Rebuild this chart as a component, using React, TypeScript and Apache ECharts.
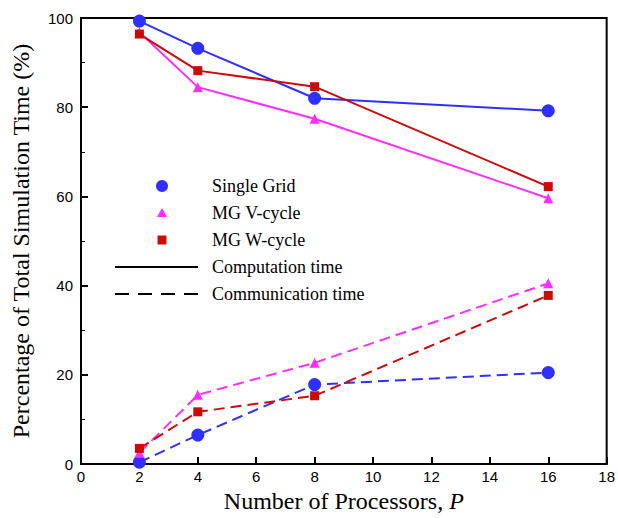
import React, { useEffect, useRef } from "react";
import * as echarts from "echarts";

const processors = [2, 4, 8, 16];
const sgComp = [99.3, 93.2, 82.0, 79.2];
const mgvComp = [96.8, 84.5, 77.4, 59.6];
const mgwComp = [96.4, 88.2, 84.6, 62.2];
const sgComm = [0.4, 6.5, 17.8, 20.5];
const mgvComm = [2.5, 15.5, 22.7, 40.5];
const mgwComm = [3.5, 11.7, 15.3, 37.8];

const xTicks = [0, 18, 2];
const yTicks = [0, 100, 20];

const BLUE = "#2f2fff";
const MAGENTA = "#ff2cff";
const RED = "#cc0a0a";

const pts = (ys: number[]) => processors.map((x, i) => [x, ys[i]]);

export default function App() {
  const ref = useRef<HTMLDivElement>(null);
  useEffect(() => {
    if (!ref.current) return;
    const chart = echarts.init(ref.current, null, { renderer: "svg" });
    const mk = (
      name: string,
      data: number[],
      color: string,
      symbol: string,
      size: number,
      dashed: boolean
    ) => ({
      name,
      type: "line",
      data: pts(data),
      symbol,
      symbolSize: size,
      showSymbol: true,
      itemStyle: { color },
      lineStyle: {
        color,
        width: 2,
        type: dashed ? [11, 6] : "solid",
      },
      z: 3,
    });
    const serif = "'Liberation Serif', 'DejaVu Serif', serif";
    const sans = "'Liberation Sans', Arial, sans-serif";
    const legendX = 162;
    const textX = 212;
    const rows = [186, 213, 240, 267, 294];
    chart.setOption({
      animation: false,
      backgroundColor: "#fff",
      grid: {
        left: 81,
        top: 18,
        right: 8,
        bottom: 51,
        show: true,
        borderColor: "#000",
        borderWidth: 2,
      },
      xAxis: {
        type: "value",
        min: xTicks[0],
        max: xTicks[1],
        interval: xTicks[2],
        name: "Number of Processors, {i|P}",
        nameLocation: "middle",
        nameGap: 25,
        nameTextStyle: {
          fontFamily: serif,
          fontSize: 24,
          color: "#000",
          verticalAlign: "top",
          rich: {
            i: { fontFamily: serif, fontSize: 24, fontStyle: "italic", color: "#000" },
          },
        },
        axisLine: { lineStyle: { color: "#000", width: 2 } },
        axisTick: { inside: true, length: 7, lineStyle: { color: "#000", width: 2 } },
        axisLabel: { fontFamily: sans, fontSize: 15, color: "#000", margin: 5 },
        splitLine: { show: false },
      },
      yAxis: {
        type: "value",
        min: yTicks[0],
        max: yTicks[1],
        interval: yTicks[2],
        name: "Percentage of Total Simulation Time (%)",
        nameLocation: "middle",
        nameGap: 48,
        nameTextStyle: { fontFamily: serif, fontSize: 24, color: "#000" },
        axisLine: { lineStyle: { color: "#000", width: 2 } },
        axisTick: { inside: true, length: 7, lineStyle: { color: "#000", width: 2 } },
        minorTick: { show: true, splitNumber: 2, length: 4, lineStyle: { color: "#000", width: 1 } },
        axisLabel: { fontFamily: sans, fontSize: 15, color: "#000", margin: 8 },
        splitLine: { show: false },
      },
      series: [
        mk("Single Grid computation", sgComp, BLUE, "circle", 13, false),
        mk("MG V-cycle computation", mgvComp, MAGENTA, "triangle", 10, false),
        mk("MG W-cycle computation", mgwComp, RED, "rect", 9, false),
        mk("Single Grid communication", sgComm, BLUE, "circle", 13, true),
        mk("MG V-cycle communication", mgvComm, MAGENTA, "triangle", 10, true),
        mk("MG W-cycle communication", mgwComm, RED, "rect", 9, true),
      ],
      graphic: [
        { type: "circle", shape: { cx: legendX, cy: rows[0], r: 6 }, style: { fill: BLUE } },
        {
          type: "polygon",
          shape: { points: [[legendX, rows[1] - 5], [legendX + 5, rows[1] + 4], [legendX - 5, rows[1] + 4]] },
          style: { fill: MAGENTA },
        },
        { type: "rect", shape: { x: legendX - 4.5, y: rows[2] - 4.5, width: 9, height: 9 }, style: { fill: RED } },
        {
          type: "line",
          shape: { x1: 115, y1: rows[3], x2: 198, y2: rows[3] },
          style: { stroke: "#000", lineWidth: 2 },
        },
        {
          type: "line",
          shape: { x1: 115, y1: rows[4], x2: 198, y2: rows[4] },
          style: { stroke: "#000", lineWidth: 2, lineDash: [14, 9] },
        },
        ...["Single Grid", "MG V-cycle", "MG W-cycle", "Computation time", "Communication time"].map(
          (t, i) => ({
            type: "text",
            x: textX,
            y: rows[i],
            style: {
              text: t,
              fontFamily: serif,
              fontSize: 18,
              fill: "#000",
              verticalAlign: "middle",
            },
          })
        ),
      ],
    });
    return () => chart.dispose();
  }, []);
  return (
    <div
      ref={ref}
      style={{ position: "absolute", left: 0, top: 0, width: 618, height: 518 }}
    />
  );
}
